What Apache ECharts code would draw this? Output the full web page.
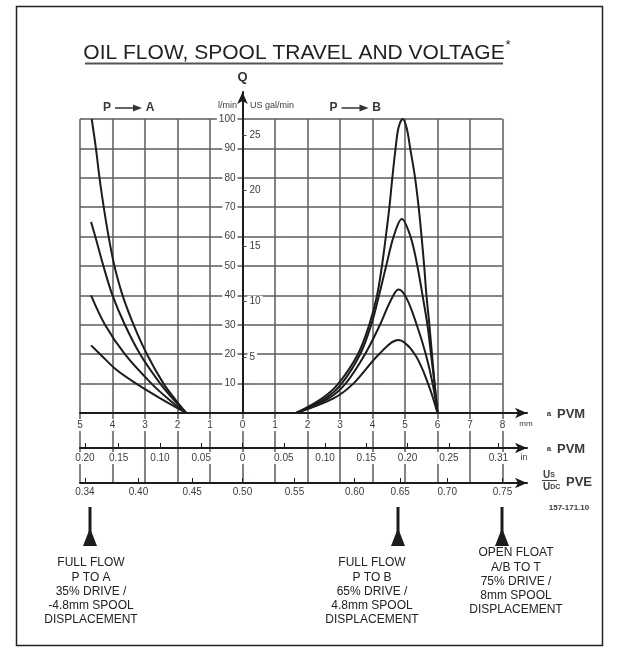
<!DOCTYPE html>
<html>
<head>
<meta charset="utf-8">
<script src="https://cdn.jsdelivr.net/npm/echarts@6/dist/echarts.min.js"></script>
<style>
    html, body { margin: 0; background: #fff; }
    #chart { width: 620px; height: 652px; }
</style>
</head>
<body>
<div id="chart"></div>
<script>
// spool travel (mm) ticks, flow ticks, US gal/min ticks
const mmTicks = [-5, -4, -3, -2, -1, 0, 1, 2, 3, 4, 5, 6, 7, 8]
const flowTicks = [10, 20, 30, 40, 50, 60, 70, 80, 90, 100]
const galTicks = [5, 10, 15, 20, 25]
// spool travel in inches (negative = towards A)
const inchTicks = [-0.20, -0.15, -0.10, -0.05, 0, 0.05, 0.10, 0.15, 0.20, 0.25, 0.31]
// PVE voltage ratio Us/Udc and the spool travel (mm) each one sits at
const voltTicks = [0.34, 0.40, 0.45, 0.50, 0.55, 0.60, 0.65, 0.70, 0.75]
const voltMm = [-4.85, -3.2, -1.55, 0, 1.6, 3.45, 4.85, 6.3, 8.0]

// P -> A curves: [spool travel mm, flow l/min]
const pa100 = [[-4.64, 100], [-4.51, 90], [-4.40, 80], [-4.27, 70], [-4.12, 60], [-3.94, 50], [-3.69, 40], [-3.35, 30], [-2.94, 20], [-2.43, 10], [-2.06, 4.5], [-1.73, 0]]
const pa65 = [[-4.66, 65], [-4.53, 60], [-4.28, 50], [-4.0, 40], [-3.62, 30], [-3.15, 20], [-2.53, 10], [-2.1, 4.3], [-1.73, 0]]
const pa40 = [[-4.66, 40], [-4.23, 30], [-3.62, 20], [-2.8, 10], [-2.2, 4], [-1.73, 0]]
const pa23 = [[-4.66, 23], [-4.38, 20], [-3.87, 14.6], [-3.27, 10], [-2.53, 5], [-1.73, 0]]

// P -> B curves
const pb100 = [[1.65, 0], [2.45, 5], [2.95, 10], [3.55, 20], [3.9, 30], [4.14, 40], [4.29, 50], [4.41, 60], [4.52, 70], [4.61, 80], [4.71, 90], [4.8, 97], [4.93, 100], [5.05, 97], [5.16, 90], [5.31, 80], [5.42, 70], [5.51, 60], [5.59, 50], [5.66, 40], [5.75, 30], [5.83, 20], [5.91, 10], [6.0, 0]]
const pb66 = [[1.65, 0], [2.55, 5], [3.05, 10], [3.62, 20], [3.96, 30], [4.2, 40], [4.42, 50], [4.65, 60], [4.9, 66], [5.17, 60], [5.38, 50], [5.54, 40], [5.69, 30], [5.8, 20], [5.91, 10], [6.0, 0]]
const pb42 = [[1.65, 0], [2.65, 5], [3.17, 10], [3.77, 20], [4.23, 30], [4.55, 38], [4.8, 42], [5.05, 39], [5.36, 30], [5.64, 20], [5.85, 10], [6.0, 0]]
const pb25 = [[1.65, 0], [2.8, 5], [3.41, 10], [4.2, 20], [4.79, 24.8], [5.3, 20], [5.71, 10], [6.0, 0]]

const chart = echarts.init(document.getElementById('chart'), null, { renderer: 'canvas' })

const FONT = 'Liberation Sans, Arial, sans-serif'
const xEnd = -5 + 447 / 32.5          // arrow axes run a bit past 8 mm
const qMax = 100 * 321 / 294          // Q axis arrow runs above 100 l/min
const inchPos = inchTicks.map((v) => Math.max(-4.85, v * 25.4))
const gridColor = '#5f5a58'
const ink = '#1c1c1c'

const indexOf = (positions, val) => positions.findIndex((p) => Math.abs(p - val) < 1e-6)

const arrowLine = {
    onZero: false,
    symbol: ['none', 'arrow'],
    symbolSize: [8, 12],
    lineStyle: { color: ink, width: 2 },
}

const tickLabel = {
    fontFamily: FONT,
    fontSize: 10,
    color: '#3c3c3c',
    backgroundColor: '#fff',
    padding: [1, 2],
}

// an axis that is present but draws nothing
const blankAxis = (gridIndex, min, max) => ({
    gridIndex,
    type: 'value',
    min,
    max,
    z: 0,
    axisLine: { show: false, onZero: false },
    axisTick: { show: false },
    axisLabel: { show: false },
    splitLine: { show: false },
})

const curve = (data) => ({
    type: 'line',
    xAxisIndex: 0,
    yAxisIndex: 0,
    data,
    smooth: 0.35,
    showSymbol: false,
    silent: true,
    lineStyle: { color: ink, width: 2 },
    z: 5,
})

const label = (x, y, text, font, align) => ({
    type: 'text',
    x,
    y,
    z: 20,
    style: { text, font: font + ' ' + FONT, fill: '#3a3a3a', textAlign: align || 'center', textVerticalAlign: 'middle' },
})

const arrowUp = (x) => [
    { type: 'rect', shape: { x: x - 1.5, y: 507, width: 3, height: 38 }, style: { fill: ink } },
    { type: 'polygon', shape: { points: [[x - 7, 546], [x + 7, 546], [x, 528]] }, style: { fill: ink } },
]

const note = (x, y, text) => ({
    type: 'text',
    x,
    y,
    style: {
        text,
        font: '12px ' + FONT,
        fill: '#222',
        textAlign: 'center',
        textVerticalAlign: 'top',
        lineHeight: 14.2,
    },
})

const flowArrow = (x, to) => [
    label(x, 108, 'P', 'bold 12px'),
    { type: 'line', shape: { x1: x + 8, y1: 108, x2: x + 28, y2: 108 }, style: { stroke: '#333', lineWidth: 1.5 } },
    { type: 'polygon', shape: { points: [[x + 26, 104.5], [x + 26, 111.5], [x + 35, 108]] }, style: { fill: '#333' } },
    label(x + 43, 108, to, 'bold 12px'),
]

chart.setOption({
    animation: false,
    backgroundColor: '#fff',
    grid: [
        { left: 80, top: 119, width: 422.5, height: 294 },     // 0 plot area
        { left: 80, top: 119, width: 422.5, height: 364 },     // 1 mm lines running down through the scales
        { left: 242.5, top: 92, width: 260, height: 321 },     // 2 Q axis at 0 mm
        { left: 80, top: 413, width: 447, height: 35 },        // 3 mm / inch axes
        { left: 80, top: 448, width: 447, height: 35 },        // 4 voltage axis
    ],
    xAxis: [
        blankAxis(0, -5, 8),
        {
            ...blankAxis(1, -5, 8),
            interval: 1,
            splitLine: { show: true, lineStyle: { color: gridColor, width: 1.5 } },
        },
        blankAxis(2, 0, 1),
        {
            gridIndex: 3,
            type: 'value',
            position: 'top',
            min: -5,
            max: xEnd,
            z: 3,
            axisLine: arrowLine,
            axisTick: { show: false },
            axisLabel: {
                ...tickLabel,
                inside: true,
                margin: 6,
                customValues: mmTicks,
                formatter: (v) => String(Math.abs(Math.round(v))),
            },
            splitLine: { show: false },
        },
        {
            gridIndex: 3,
            type: 'value',
            position: 'bottom',
            min: -5,
            max: xEnd,
            z: 3,
            axisLine: arrowLine,
            axisTick: { show: true, inside: true, length: 5, customValues: inchPos, lineStyle: { color: ink, width: 1 } },
            axisLabel: {
                ...tickLabel,
                margin: 4,
                customValues: inchPos,
                formatter: (v) => {
                    const i = indexOf(inchPos, v)
                    if (i < 0) return ''
                    return inchTicks[i] === 0 ? '0' : Math.abs(inchTicks[i]).toFixed(2)
                },
            },
            splitLine: { show: false },
        },
        {
            gridIndex: 4,
            type: 'value',
            position: 'bottom',
            min: -5,
            max: xEnd,
            z: 3,
            axisLine: arrowLine,
            axisTick: { show: true, inside: true, length: 5, customValues: voltMm, lineStyle: { color: ink, width: 1 } },
            axisLabel: {
                ...tickLabel,
                margin: 3,
                customValues: voltMm,
                formatter: (v) => {
                    const i = indexOf(voltMm, v)
                    return i < 0 ? '' : voltTicks[i].toFixed(2)
                },
            },
            splitLine: { show: false },
        },
    ],
    yAxis: [
        {
            ...blankAxis(0, 0, 100),
            interval: 10,
            splitLine: { show: true, lineStyle: { color: gridColor, width: 1.5 } },
        },
        blankAxis(1, 0, 1),
        {
            // Q axis, l/min labels on its left
            gridIndex: 2,
            type: 'value',
            position: 'left',
            min: 0,
            max: qMax,
            z: 3,
            name: 'Q',
            nameLocation: 'end',
            nameGap: 8,
            nameTextStyle: { fontFamily: FONT, fontSize: 13, fontWeight: 'bold', color: '#333' },
            axisLine: { ...arrowLine },
            axisTick: { show: false },
            axisLabel: { ...tickLabel, margin: 5, customValues: flowTicks },
            splitLine: { show: false },
        },
        {
            // US gal/min labels on the right of the Q axis
            gridIndex: 2,
            type: 'value',
            position: 'left',
            min: 0,
            max: qMax / 3.785,
            z: 3,
            axisLine: { show: false },
            axisTick: { show: true, inside: true, length: 4, customValues: galTicks, lineStyle: { color: '#444', width: 1 } },
            axisLabel: { ...tickLabel, inside: true, margin: 5, customValues: galTicks },
            splitLine: { show: false },
        },
        blankAxis(3, 0, 1),
        blankAxis(4, 0, 1),
    ],
    series: [pa100, pa65, pa40, pa23, pb100, pb66, pb42, pb25].map(curve),
    graphic: [
        { type: 'rect', shape: { x: 16.5, y: 6.5, width: 586, height: 639 }, style: { fill: 'none', stroke: '#222', lineWidth: 1.5 }, z: 10 },
        {
            type: 'text',
            x: 294,
            y: 53,
            style: { text: 'OIL FLOW, SPOOL TRAVEL AND VOLTAGE', font: '21px ' + FONT, fill: '#222', textAlign: 'center', textVerticalAlign: 'middle' },
        },
        { type: 'line', shape: { x1: 85, y1: 63.5, x2: 503, y2: 63.5 }, style: { stroke: '#555', lineWidth: 2 } },
        { type: 'text', x: 508, y: 45, style: { text: '*', font: '13px ' + FONT, fill: '#222', textAlign: 'center', textVerticalAlign: 'middle' } },
        ...flowArrow(107, 'A'),
        ...flowArrow(333.5, 'B'),
        label(237, 106, 'l/min', '9px', 'right'),
        label(250, 106, 'US gal/min', '9px', 'left'),
        label(526, 424, 'mm', '8px'),
        label(524, 458, 'in', '9px'),
        label(549, 414, 'a', 'bold 8px'),
        label(557, 414, 'PVM', 'bold 13px', 'left'),
        label(549, 449, 'a', 'bold 8px'),
        label(557, 449, 'PVM', 'bold 13px', 'left'),
        {
            type: 'text',
            x: 543,
            y: 475,
            style: {
                text: '{u|U}{s|S}',
                rich: { u: { font: 'bold 10px ' + FONT, fill: '#444' }, s: { font: 'bold 7px ' + FONT, fill: '#444' } },
                textVerticalAlign: 'middle',
            },
        },
        { type: 'line', shape: { x1: 542, y1: 480.5, x2: 557, y2: 480.5 }, style: { stroke: '#444', lineWidth: 1 } },
        {
            type: 'text',
            x: 543,
            y: 487,
            style: {
                text: '{u|U}{s|DC}',
                rich: { u: { font: 'bold 10px ' + FONT, fill: '#444' }, s: { font: 'bold 7px ' + FONT, fill: '#444' } },
                textVerticalAlign: 'middle',
            },
        },
        label(566, 482, 'PVE', 'bold 13px', 'left'),
        label(569, 508, '157-171.10', 'bold 8px'),
        ...arrowUp(90),
        ...arrowUp(398),
        ...arrowUp(502),
        note(91, 556, 'FULL FLOW\nP TO A\n35% DRIVE /\n-4.8mm SPOOL\nDISPLACEMENT'),
        note(372, 556, 'FULL FLOW\nP TO B\n65% DRIVE /\n4.8mm SPOOL\nDISPLACEMENT'),
        note(516, 546, 'OPEN FLOAT\nA/B TO T\n75% DRIVE /\n8mm SPOOL\nDISPLACEMENT'),
    ],
})

window.addEventListener('resize', () => chart.resize())
</script>
</body>
</html>
